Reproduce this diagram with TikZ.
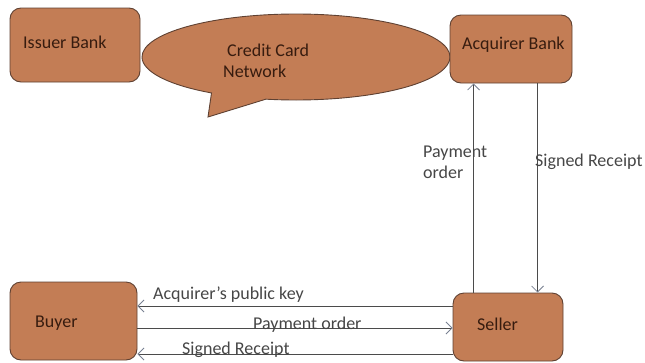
\documentclass[tikz,border=0pt]{standalone}
\usepackage{fontspec}
\setmainfont{Carlito}
\usetikzlibrary{shapes.callouts,arrows.meta}
\definecolor{boxfill}{RGB}{195,125,85}
\definecolor{boxline}{RGB}{95,65,50}
\definecolor{boxtext}{RGB}{55,28,15}
\definecolor{linecol}{RGB}{75,75,75}
\definecolor{tipcol}{RGB}{120,128,145}
\definecolor{labcol}{RGB}{70,70,70}
\begin{document}
\begin{tikzpicture}[x=1pt,y=-1pt,
  bank/.style={draw=boxline,line width=0.9pt,fill=boxfill,rounded corners=11pt,inner sep=0pt},
  txt/.style={inner sep=0pt,anchor=west,text=boxtext,font=\fontsize{18}{21}\selectfont},
  lab/.style={inner sep=0pt,anchor=west,text=labcol,font=\fontsize{18}{21}\selectfont,align=left},
  arr/.style={draw=linecol,line width=0.8pt,-{Straight Barb[length=6pt,width=12pt,color=tipcol]}}]
\useasboundingbox (0,0) rectangle (645,362);
% callout
\node[ellipse callout,draw=boxline,line width=0.9pt,fill=boxfill,inner sep=0pt,
  minimum width=308pt,minimum height=86pt,callout pointer arc=22,
  callout absolute pointer={(208,117)}] (net) at (296,57) {};
\node[txt,align=left] (nettxt) at (223,61) {\hspace*{4pt}Credit Card\\Network};
% boxes
\node[bank,minimum width=130pt,minimum height=74pt] (issuer) at (75,45) {};
\node[txt] (issuertxt) at (23,42) {Issuer Bank};
\node[bank,minimum width=122pt,minimum height=68pt] (acq) at (511,49) {};
\node[txt] (acqtxt) at (462,45) {Acquirer Bank};
\node[bank,minimum width=127pt,minimum height=78pt] (buyer) at (73.5,321) {};
\node[txt] (buyertxt) at (35,323) {Buyer};
\node[bank,minimum width=110pt,minimum height=68pt] (seller) at (508,327) {};
\node[txt] (sellertxt) at (477,324) {Seller};
% vertical connectors
\draw[arr] ([xshift=21pt]seller.north west) -- ([xshift=21pt]seller.north west |- acq.south);
\draw[arr] ([xshift=85pt]seller.north west |- acq.south) -- ([xshift=85pt]seller.north west);
\node[lab] (l1) at (423,162.5) {Payment\\order};
\node[lab] (l2) at (535,162) {Signed Receipt};
% horizontal connectors
\draw[arr] ([yshift=21pt]seller.west) -- ([yshift=21pt]seller.west -| buyer.east);
\draw[arr] ([yshift=-7pt]buyer.east) -- ([yshift=-7pt]buyer.east -| seller.west);
\draw[arr] ([yshift=-27pt]seller.west) -- ([yshift=-27pt]seller.west -| buyer.east);
\node[lab] (l3) at (153,295) {Acquirer's public key};
\node[lab] (l4) at (253,325) {Payment order};
\node[lab] (l5) at (182,350) {Signed Receipt};
\end{tikzpicture}
\end{document}
